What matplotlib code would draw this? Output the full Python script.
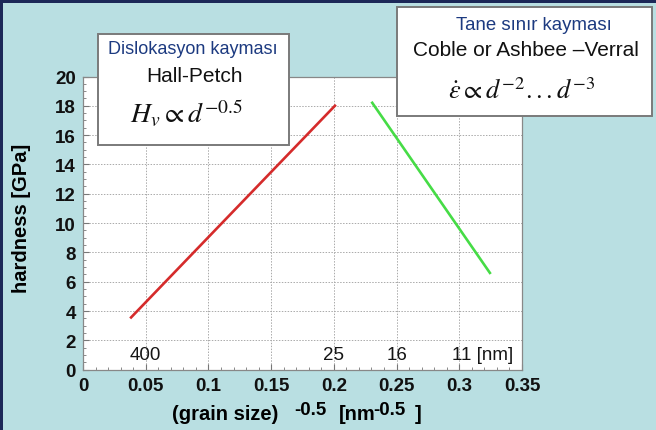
import matplotlib
matplotlib.use("Agg")
import matplotlib.pyplot as plt
from matplotlib.patches import Rectangle
from matplotlib.ticker import MultipleLocator

# ---- data ----
hp_x = [0.0376, 0.2016]          # Hall-Petch (red)
hp_y = [3.5, 18.07]
gb_x = [0.230, 0.325]            # grain boundary sliding (green)
gb_y = [18.28, 6.53]
grain_sizes_nm = [400, 25, 16, 11]
grain_labels = ["400", "25", "16", "11 [nm]"]
xticks = [0, 0.05, 0.1, 0.15, 0.2, 0.25, 0.3, 0.35]
xtick_labels = ["0", "0.05", "0.1", "0.15", "0.2", "0.25", "0.3", "0.35"]
yticks = [0, 2, 4, 6, 8, 10, 12, 14, 16, 18, 20]

W, H = 656, 431
BG = "#b9dfe2"
DARK = "#1c2858"
BLUE_TXT = "#1c3a80"

plt.rcParams["font.family"] = ["Liberation Sans", "DejaVu Sans"]

fig = plt.figure(figsize=(W / 100, H / 100), dpi=100)
fig.patch.set_facecolor(BG)

def fx(x):
    return x / W

def fy(y):
    return 1 - y / H

# dark frame edges
fig.add_artist(Rectangle((0, 0), fx(3), 1, transform=fig.transFigure,
                         facecolor=DARK, edgecolor="none", zorder=0))
fig.add_artist(Rectangle((0, fy(4)), 1, 4 / H, transform=fig.transFigure,
                         facecolor=DARK, edgecolor="none", zorder=0))

left, right, top, bottom = 83, 522, 77.5, 370.7
ax = fig.add_axes([fx(left), fy(bottom), (right - left) / W, (bottom - top) / H])
ax.set_facecolor("white")

ax.plot(hp_x, hp_y, color="#d52b2b", lw=1.9, solid_capstyle="butt", zorder=3)
ax.plot(gb_x, gb_y, color="#46dc46", lw=1.9, solid_capstyle="butt", zorder=3)

ax.set_xlim(0, 0.35)
ax.set_ylim(0, 20)
ax.set_xticks(xticks)
ax.set_xticklabels(xtick_labels)
ax.set_yticks(yticks)
ax.xaxis.set_minor_locator(MultipleLocator(0.01))
ax.yaxis.set_minor_locator(MultipleLocator(0.5))
ax.tick_params(axis="both", which="both", direction="in", color="#777777",
               top=False, right=False)
ax.tick_params(axis="both", which="major", length=4, width=0.8, labelsize=13.5, pad=5)
ax.tick_params(axis="both", which="minor", length=2.5, width=0.6)
for lab in ax.get_xticklabels() + ax.get_yticklabels():
    lab.set_fontweight("bold")
    lab.set_color("#111111")
ax.grid(True, which="major", color="#aaaaaa", lw=0.7, ls=(0, (1.5, 1.5)))
for s in ax.spines.values():
    s.set_color("#888888")
    s.set_linewidth(0.9)

# grain size labels inside plot
for d, lab in zip(grain_sizes_nm, grain_labels):
    xv = d ** -0.5
    if lab.startswith("11"):
        ax.text(xv - 0.007, 1.05, lab, ha="left", va="center", fontsize=13.5, color="#151515")
    else:
        ax.text(xv, 1.05, lab, ha="center", va="center", fontsize=13.5, color="#151515")

ax.set_ylabel("hardness [GPa]", fontsize=14.5, fontweight="bold")
ax.yaxis.set_label_coords(-0.118, 0.52)

# x label assembled from pieces
pieces = [("(grain size)", 172, 14.5, 0), ("-0.5", 294, 13.5, 5),
          ("[nm", 339, 14.5, 0), ("-0.5", 373, 13.5, 5), ("]", 415, 14.5, 0)]
for txt, xp, fs, raise_px in pieces:
    fig.text(fx(xp), fy(420) + raise_px / H, txt, fontsize=fs, fontweight="bold",
             ha="left", va="baseline")

# left annotation box
bx0, by0, bx1, by1 = 98, 35, 289, 146
fig.add_artist(Rectangle((fx(bx0), fy(by1)), (bx1 - bx0) / W, (by1 - by0) / H,
                         transform=fig.transFigure, facecolor="white",
                         edgecolor="#7a7a7a", lw=1.4, zorder=5))
fig.text(fx(193), fy(49), "Dislokasyon kayması", fontsize=13, color=BLUE_TXT,
         ha="center", va="center", zorder=6)
fig.text(fx(195), fy(77), "Hall-Petch", fontsize=15, color="#111111",
         ha="center", va="center", zorder=6)
fig.text(fx(186), fy(114), r"$H_v \propto d^{-0.5}$", fontsize=20, color="#111111",
         ha="center", va="center", zorder=6, math_fontfamily="stix")

# right annotation box
rx0, ry0, rx1, ry1 = 397, 8, 652, 117
fig.add_artist(Rectangle((fx(rx0), fy(ry1)), (rx1 - rx0) / W, (ry1 - ry0) / H,
                         transform=fig.transFigure, facecolor="white",
                         edgecolor="#7a7a7a", lw=1.4, zorder=5))
fig.text(fx(534), fy(26), "Tane sınır kayması", fontsize=13.4, color=BLUE_TXT,
         ha="center", va="center", zorder=6)
fig.text(fx(526), fy(51), "Coble or Ashbee \u2013Verral", fontsize=15, color="#111111",
         ha="center", va="center", zorder=6)
fig.text(fx(522), fy(91), r"$\dot{\varepsilon} \propto d^{-2}...d^{-3}$", fontsize=19,
         color="#111111", ha="center", va="center", zorder=6, math_fontfamily="stix")

fig.savefig("out.png", dpi=100, facecolor=fig.get_facecolor())
